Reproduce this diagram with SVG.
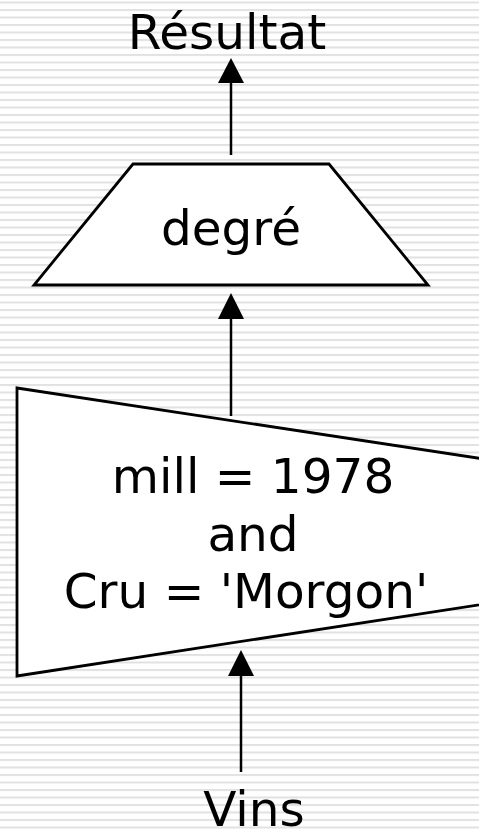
<svg xmlns="http://www.w3.org/2000/svg" width="479" height="834" viewBox="0 0 479 834">
  <defs>
    <pattern id="stripes" x="0" y="1.5" width="20" height="7.5" patternUnits="userSpaceOnUse">
      <rect x="0" y="0" width="20" height="2" fill="#e1e1e1"/>
    </pattern>
  </defs>
  <style>
    .shape { fill: #fff; stroke: #000; stroke-width: 2.8; stroke-linejoin: miter; }
    .conn { stroke: #000; stroke-width: 2.5; fill: none; }
    .head { fill: #000; }
    .lbl { font-family: "DejaVu Sans", Verdana, sans-serif; font-size: 48.5px; fill: #000; }
  </style>
  <rect x="0" y="0" width="479" height="834" fill="#fff"/>
  <rect x="0" y="0" width="479" height="834" fill="url(#stripes)"/>

  <g id="connectors">
    <line class="conn" x1="231" y1="155" x2="231" y2="83"/>
    <path class="head" d="M218,83 L231,58 L244,83 Z"/>
    <line class="conn" x1="231" y1="416" x2="231" y2="319"/>
    <path class="head" d="M218,319 L231,293 L244,319 Z"/>
    <line class="conn" x1="241" y1="772" x2="241" y2="676"/>
    <path class="head" d="M228,676 L241,650 L254,676 Z"/>
  </g>

  <g id="resultat">
    <text class="lbl" x="227" y="49" text-anchor="middle">Résultat</text>
  </g>

  <g id="projection">
    <polygon class="shape" points="133,164 329,164 428,285 34,285"/>
    <text class="lbl" x="231" y="245" text-anchor="middle">degré</text>
  </g>

  <g id="selection">
    <polygon class="shape" points="17,388 530,466 530,597 17,676"/>
    <text class="lbl" x="253" y="493" text-anchor="middle">mill = 1978</text>
    <text class="lbl" x="253" y="551" text-anchor="middle">and</text>
    <text class="lbl" x="246" y="608" text-anchor="middle">Cru = 'Morgon'</text>
  </g>

  <g id="vins">
    <text class="lbl" x="254" y="826" text-anchor="middle">Vins</text>
  </g>
</svg>
